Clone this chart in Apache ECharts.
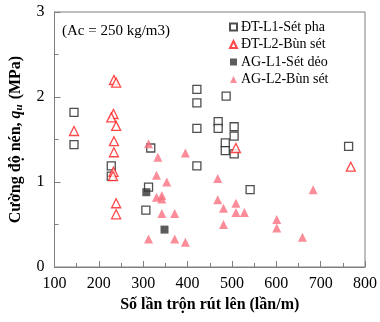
<!DOCTYPE html>
<html>
<head>
<meta charset="utf-8">
<script src="https://cdn.jsdelivr.net/npm/echarts@6/dist/echarts.min.js"></script>
<style>
  html, body { margin: 0; padding: 0; background: #fff; }
  #chart { width: 380px; height: 322px; }
</style>
</head>
<body>
<div id="chart"></div>
<script>
// ĐT-L1-Sét pha (ô vuông rỗng)
const dtL1 = [
  [144, 1.82], [144, 1.44], [228, 1.19], [228, 1.07], [317, 1.40],
  [312, 0.94], [306, 0.67], [421, 2.09], [421, 1.93], [421, 1.63],
  [421, 1.19], [487, 2.01], [469, 1.71], [469, 1.63], [505, 1.65],
  [505, 1.54], [485, 1.46], [485, 1.37], [505, 1.33], [541, 0.91],
  [763, 1.42]
];
// ĐT-L2-Bùn sét (tam giác rỗng)
const dtL2 = [
  [234, 2.20], [239, 2.17], [233, 1.80], [228, 1.76], [239, 1.66],
  [144, 1.60], [234, 1.48], [234, 1.35], [233, 1.12], [232, 1.07],
  [239, 0.75], [239, 0.62], [509, 1.40], [768, 1.18]
];
// AG-L1-Sét dẻo (ô vuông đặc)
const agL1 = [[307, 0.88], [348, 0.44]];
// AG-L2-Bùn sét (tam giác đặc)
const agL2 = [
  [312, 1.45], [333, 1.29], [330, 1.08], [353, 1.00], [330, 0.82],
  [342, 0.84], [342, 0.80], [342, 0.63], [371, 0.63], [312, 0.33],
  [371, 0.33], [395, 0.29], [395, 1.34], [468, 1.04], [468, 0.79],
  [481, 0.69], [481, 0.50], [509, 0.75], [509, 0.64], [528, 0.64],
  [683, 0.91], [601, 0.56], [601, 0.46], [659, 0.35]
];
const seriesNames = ['ĐT-L1-Sét pha', 'ĐT-L2-Bùn sét', 'AG-L1-Sét dẻo', 'AG-L2-Bùn sét'];

const font = 'Liberation Serif, Times New Roman, serif';
const axisGray = '#7f7f7f';

const chart = echarts.init(document.getElementById('chart'));

const option = {
  animation: false,
  textStyle: { fontFamily: font, color: '#000' },
  title: {
    text: '(Ac = 250 kg/m3)',
    left: 57,
    top: 19,
    textStyle: { fontFamily: font, fontSize: 15, fontWeight: 'normal', color: '#000' }
  },
  legend: {
    orient: 'vertical',
    left: 224,
    top: 15,
    itemWidth: 7,
    itemHeight: 7,
    itemGap: 3.5,
    textStyle: { fontFamily: font, fontSize: 14, color: '#000', padding: [0, 0, 0, -1] },
    data: [
      { name: seriesNames[0], icon: 'rect' },
      { name: seriesNames[1], icon: 'triangle' },
      { name: seriesNames[2], icon: 'rect' },
      { name: seriesNames[3], icon: 'triangle' }
    ]
  },
  grid: {
    left: 54,
    right: 14,
    top: 12,
    bottom: 55,
    show: true,
    borderColor: axisGray,
    borderWidth: 1
  },
  xAxis: {
    type: 'value',
    min: 100,
    max: 800,
    interval: 100,
    name: 'Số lần trộn rút lên (lần/m)',
    nameLocation: 'middle',
    nameGap: 30,
    nameTextStyle: { fontFamily: font, fontSize: 16, fontWeight: 'bold', color: '#000' },
    axisLine: { lineStyle: { color: axisGray } },
    axisTick: { inside: true, length: 6, lineStyle: { color: axisGray } },
    minorTick: { show: true, splitNumber: 2, length: 4, lineStyle: { color: axisGray } },
    splitLine: { show: false },
    axisLabel: { fontFamily: font, fontSize: 16, color: '#000', margin: 9 }
  },
  yAxis: {
    type: 'value',
    min: 0,
    max: 3,
    interval: 1,
    name: 'Cường độ nén, {q|q}{u|u} (MPa)',
    nameLocation: 'middle',
    nameGap: 30,
    nameTextStyle: {
      fontFamily: font, fontSize: 16, fontWeight: 'bold', color: '#000',
      rich: {
        q: { fontFamily: font, fontSize: 16, fontWeight: 'bold', fontStyle: 'italic' },
        u: { fontFamily: font, fontSize: 11, fontWeight: 'bold', fontStyle: 'italic', padding: [6, 1, 0, 0] }
      }
    },
    axisLine: { lineStyle: { color: axisGray } },
    axisTick: { inside: true, length: 6, lineStyle: { color: axisGray } },
    minorTick: { show: true, splitNumber: 2, length: 4, lineStyle: { color: axisGray } },
    splitLine: { show: false },
    axisLabel: { fontFamily: font, fontSize: 16, color: '#000', margin: 10 }
  },
  series: [
    {
      name: seriesNames[0],
      type: 'scatter',
      data: dtL1,
      symbol: 'rect',
      symbolSize: 8,
      itemStyle: { color: '#fff', borderColor: '#222', borderWidth: 1.3 }
    },
    {
      name: seriesNames[1],
      type: 'scatter',
      data: dtL2,
      symbol: 'triangle',
      symbolSize: 9,
      itemStyle: { color: '#fff', borderColor: '#ff1a1a', borderWidth: 1.3 }
    },
    {
      name: seriesNames[2],
      type: 'scatter',
      data: agL1,
      symbol: 'rect',
      symbolSize: 8,
      itemStyle: { color: '#333' }
    },
    {
      name: seriesNames[3],
      type: 'scatter',
      data: agL2,
      symbol: 'triangle',
      symbolSize: 9,
      itemStyle: { color: '#f9707f' }
    }
  ]
};

chart.setOption(option);
</script>
</body>
</html>
